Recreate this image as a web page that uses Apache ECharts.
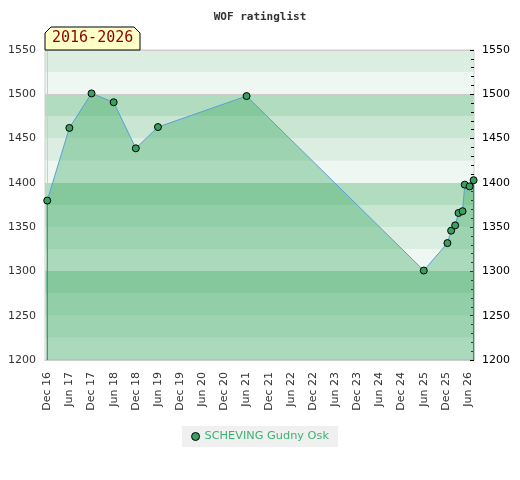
<!DOCTYPE html>
<html>
<head>
<meta charset="utf-8">
<script src="https://cdn.jsdelivr.net/npm/echarts@6.0.0/dist/echarts.min.js"></script>
<style>
html,body{margin:0;padding:0;background:#fff;}
#main{width:520px;height:480px;}
</style>
</head>
<body>
<div id="main"></div>
<script>
// ---- data ----
var title = 'WOF ratinglist';
var periodLabel = '2016-2026';
var playerName = 'SCHEVING Gudny Osk';
// months counted from Dec 2016
var monthOffsets = [0, 6, 12, 18, 24, 30, 54, 102, 108.4, 109.4, 110.5, 111.4, 112.5, 113.1, 114.4, 115.5];
var ratings = [1380, 1462, 1501, 1491, 1439, 1463, 1498, 1301, 1332, 1346, 1352, 1366, 1368, 1398, 1396, 1403];
var tickMonths = [0, 6, 12, 18, 24, 30, 36, 42, 48, 54, 60, 66, 72, 78, 84, 90, 96, 102, 108, 114];
var tickLabels = ['Dec 16','Jun 17','Dec 17','Jun 18','Dec 18','Jun 19','Dec 19','Jun 20','Dec 20','Jun 21',
                  'Dec 21','Jun 22','Dec 22','Jun 23','Dec 23','Jun 24','Dec 24','Jun 25','Dec 25','Jun 26'];
var bandColors = ['#eff7f2', '#dcede2', '#c8e6d2', '#b1dcc0'];

var seriesData = monthOffsets.map(function (m, i) { return [m, ratings[i]]; });
var first = seriesData[0], last = seriesData[seriesData.length - 1];
function plain(v) { return String(v); }

var chart = echarts.init(document.getElementById('main'));
var option = {
  animation: false,
  title: {
    text: title, left: 'center', top: 7,
    textStyle: { fontFamily: 'DejaVu Sans Mono', fontWeight: 'bold', fontSize: 11, color: '#333' }
  },
  grid: { left: 45, right: 46, top: 50, bottom: 120, containLabel: false,
          show: true, borderColor: '#d0d0d0', borderWidth: 1, backgroundColor: 'transparent' },
  xAxis: {
    type: 'value', min: -0.6, max: 115.6,
    axisLine: { show: true, onZero: false, lineStyle: { color: '#cccccc' } },
    axisTick: { show: false },
    splitLine: { show: false },
    axisLabel: {
      customValues: tickMonths,
      rotate: 90, color: '#333', fontFamily: 'DejaVu Sans', fontSize: 11, margin: 12,
      formatter: function (v) { var i = tickMonths.indexOf(v); return i >= 0 ? tickLabels[i] : ''; }
    }
  },
  yAxis: [
    {
      type: 'value', min: 1200, max: 1550, interval: 50, position: 'left',
      axisLine: { show: true, lineStyle: { color: '#cccccc' } },
      axisTick: { show: false },
      axisLabel: { color: '#333', fontFamily: 'DejaVu Sans', fontSize: 11, margin: 9, formatter: plain },
      splitLine: { show: false }
    },
    {
      type: 'value', min: 1200, max: 1550, interval: 50, position: 'right',
      axisLine: { show: false },
      axisTick: { show: true, inside: true, length: 4, lineStyle: { color: '#000' } },
      minorTick: { show: true, splitNumber: 5, length: 3, lineStyle: { color: '#000' } },
      axisLabel: { color: '#000', fontFamily: 'DejaVu Sans', fontSize: 11, margin: 8, formatter: plain },
      splitLine: { show: false }
    },
    {
      type: 'value', min: 1200, max: 1550, interval: 25, position: 'left', show: true,
      axisLine: { show: false }, axisTick: { show: false }, axisLabel: { show: false },
      splitLine: { show: false },
      splitArea: { show: true, areaStyle: { color: bandColors } },
      z: -1
    },
    {
      type: 'value', min: 1200, max: 1550, interval: 100, position: 'left', show: true,
      axisLine: { show: false }, axisTick: { show: false }, axisLabel: { show: false },
      splitLine: { show: true, lineStyle: { color: '#cccccc', width: 1 } },
      splitArea: { show: false }
    }
  ],
  legend: {
    bottom: 33, left: 'center',
    backgroundColor: '#f0f0f0', padding: [5, 9, 5, 9],
    itemWidth: 8, itemHeight: 8, itemGap: 6,
    textStyle: { color: '#3cb371', fontFamily: 'DejaVu Sans', fontSize: 11.3 },
    data: [{ name: playerName, icon: 'circle',
             itemStyle: { color: '#3aa060', borderColor: '#000', borderWidth: 1 } }]
  },
  series: [
    {
      name: playerName, type: 'line', yAxisIndex: 0,
      data: seriesData,
      symbol: 'circle', symbolSize: 7,
      itemStyle: { color: '#3aa060', borderColor: '#000', borderWidth: 1 },
      lineStyle: { color: '#5aa0d8', width: 1 },
      areaStyle: { color: 'rgba(60,170,100,0.55)', origin: 'start' },
      z: 3
    },
    {
      name: 'edges', type: 'line', yAxisIndex: 0, silent: true,
      data: [[first[0], 1200], [first[0], first[1]], null, [last[0], 1200], [last[0], last[1]]],
      connectNulls: false,
      symbol: 'none', lineStyle: { color: '#2e8b57', width: 1.2 }, z: 2
    }
  ],
  graphic: [
    {
      type: 'polygon', z: 100,
      shape: { points: [[45, 50], [45, 33], [51, 27], [134, 27], [140, 33], [140, 50]] },
      style: { fill: '#ffffc8', stroke: '#000', lineWidth: 1 }
    },
    {
      type: 'text', z: 101, left: 52, top: 31,
      style: { text: periodLabel, fill: '#8b0000', font: '15px "DejaVu Sans Mono"' }
    }
  ]
};
chart.setOption(option);
</script>
</body>
</html>
